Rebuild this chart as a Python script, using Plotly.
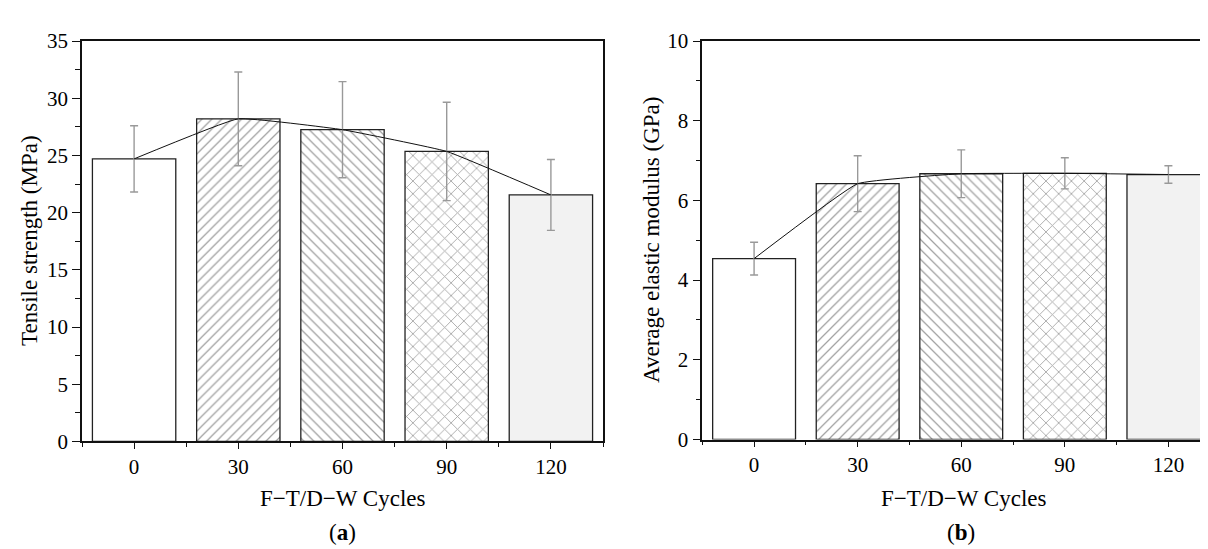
import plotly.graph_objects as go

cycles = ["0", "30", "60", "90", "120"]
tensile = [24.7, 28.2, 27.25, 25.35, 21.55]
tensile_err = [2.9, 4.1, 4.2, 4.3, 3.1]
modulus = [4.54, 6.42, 6.67, 6.68, 6.65]
modulus_err = [0.41, 0.70, 0.60, 0.39, 0.22]

x_title = "F\u2212T/D\u2212W Cycles"
y_title_a = "Tensile strength (MPa)"
y_title_b = "Average elastic modulus (GPa)"

pos = list(range(len(cycles)))
shapes = ["", "/", "\\", "x", ""]
sizes = [7, 7, 7, 9, 7]
bg = ["white", "white", "white", "white", "#f2f2f2"]
FONT = "Liberation Serif, Times New Roman, serif"

fig = go.Figure()

def add_panel(vals, errs, xa, ya):
    fig.add_trace(go.Bar(
        x=pos, y=vals, width=0.8, xaxis=xa, yaxis=ya,
        marker=dict(color=bg, line=dict(color="#222222", width=1.3),
                    pattern=dict(shape=shapes, fgcolor="#444444", bgcolor=bg,
                                 size=sizes, solidity=0.18, fillmode="overlay")),
        error_y=dict(type="data", array=errs, visible=True, color="#999999",
                     thickness=1.4, width=4),
        showlegend=False, hoverinfo="skip"))
    fig.add_trace(go.Scatter(
        x=pos, y=vals, xaxis=xa, yaxis=ya, mode="lines",
        line=dict(color="#111111", width=1, shape="spline", smoothing=0.3),
        showlegend=False, hoverinfo="skip"))

add_panel(tensile, tensile_err, "x", "y")
add_panel(modulus, modulus_err, "x2", "y2")

axis_common = dict(showline=True, linecolor="#111111", linewidth=1.5,
                   ticks="outside", tickcolor="#111111", tickwidth=1.3,
                   showgrid=False, zeroline=False,
                   tickfont=dict(family=FONT, size=21, color="black"))

fig.update_layout(
    width=1208, height=549, paper_bgcolor="white", plot_bgcolor="white",
    margin=dict(l=0, r=0, t=0, b=0), bargap=0.2,
    xaxis=dict(domain=[74/1208, 595/1208], range=[-0.5, 4.5],
               tickvals=pos, ticktext=cycles, ticklen=6, mirror=True,
               minor=dict(tick0=-0.5, dtick=0.5, ticklen=4, ticks="outside",
                          tickcolor="#111111", tickwidth=1.2),
               anchor="y", **axis_common),
    yaxis=dict(domain=[1-440.7/549, 1-22/549], range=[0, 35], dtick=5,
               ticklen=8, mirror=True,
               minor=dict(dtick=2.5, ticklen=5, ticks="outside",
                          tickcolor="#111111", tickwidth=1.2),
               anchor="x", **axis_common),
    xaxis2=dict(domain=[694.3/1208, 1.0], range=[-0.5, (1208-746)/103.6],
                tickvals=pos, ticktext=cycles, ticklen=6, mirror=True,
                minor=dict(tick0=-0.5, dtick=0.5, ticklen=4, ticks="outside",
                           tickcolor="#111111", tickwidth=1.2),
                anchor="y2", **axis_common),
    yaxis2=dict(domain=[1-438.7/549, 1-22/549], range=[0, 10], dtick=2,
                ticklen=8, mirror=False,
                minor=dict(dtick=1, ticklen=5, ticks="outside",
                           tickcolor="#111111", tickwidth=1.2),
                anchor="x2", **axis_common),
)

ann_font = dict(family=FONT, size=23, color="black")
fig.add_annotation(text=x_title, xref="paper", yref="paper", x=334.5/1208,
                   y=1-500/549, showarrow=False, font=ann_font,
                   xanchor="center", yanchor="middle")
fig.add_annotation(text=x_title, xref="paper", yref="paper", x=955/1208,
                   y=1-500/549, showarrow=False, font=ann_font,
                   xanchor="center", yanchor="middle")
fig.add_annotation(text="(<b>a</b>)", xref="paper", yref="paper", x=334/1208,
                   y=1-536/549, showarrow=False, font=ann_font,
                   xanchor="center", yanchor="middle")
fig.add_annotation(text="(<b>b</b>)", xref="paper", yref="paper", x=953/1208,
                   y=1-536/549, showarrow=False, font=ann_font,
                   xanchor="center", yanchor="middle")
fig.add_annotation(text=y_title_a, xref="paper", yref="paper", x=22/1208,
                   y=1-231/549, showarrow=False, font=ann_font, textangle=-90,
                   xanchor="center", yanchor="middle")
fig.add_annotation(text=y_title_b, xref="paper", yref="paper", x=644/1208,
                   y=1-230/549, showarrow=False, font=ann_font, textangle=-90,
                   xanchor="center", yanchor="middle")

fig.write_html("out.html")
